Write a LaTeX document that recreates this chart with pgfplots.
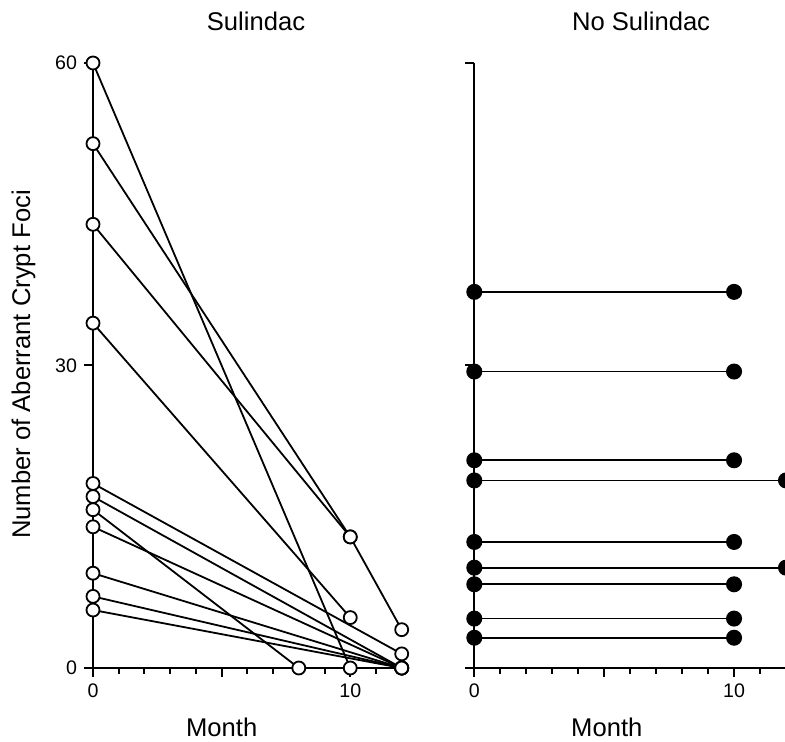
\documentclass[border=0pt]{standalone}
\usepackage{fontspec}
\setmainfont{Liberation Sans}
\usepackage{pgfplots}
\pgfplotsset{compat=1.18}
\begin{document}
\begin{tikzpicture}
\pgfplotsset{
 panel/.style={
  scale only axis, height=302.5pt,
  xmin=0, xmax=12, ymin=0, ymax=60,
  axis lines*=left, axis line style={line width=1pt},
  clip=false,
  xtick={0,5,10}, xticklabels={0,,10},
  minor xtick={1,2,3,4,6,7,8,9,11,12},
  ytick={0,30,60},
  tick align=outside,
  major tick length=4.5pt, minor tick length=3pt,
  every tick/.style={black, line width=1pt},
  tick label style={font=\fontsize{9.8}{11}\selectfont},
  /pgf/number format/assume math mode=true,
  label style={font=\fontsize{12.8}{15}\selectfont},
  every axis title shift=0pt,
  title style={font=\fontsize{12.8}{15}\selectfont, anchor=base},
 },
 sul/.style={black, line width=0.9pt, mark=*, mark size=3.25pt,
   mark options={fill=white, draw=black, line width=0.9pt, solid}},
 nos/.style={black, line width=0.9pt, mark=*, mark size=3.7pt,
   mark options={fill=black, draw=black, line width=0.6pt, solid}},
}
\begin{axis}[panel, at={(46.5pt,37pt)}, anchor=south west, width=154.35pt,
  title={Sulindac}, title style={at={(axis description cs:0.528,1.0545)}},
  xlabel={Month}, xlabel style={at={(axis description cs:0.417,-0.1136)}, anchor=base},
  ylabel={Number of Aberrant Crypt Foci},
  ylabel style={at={(axis description cs:-0.204,0.5017)}, anchor=base},
  yticklabels={0,30,60}]
\addplot[sul] coordinates {(0,60) (10,0)};
\addplot[sul] coordinates {(0,52) (10,13) (12,3.8)};
\addplot[sul] coordinates {(0,44) (10,13)};
\addplot[sul] coordinates {(0,34.2) (10,5)};
\addplot[sul] coordinates {(0,18.3) (12,1.4)};
\addplot[sul] coordinates {(0,17) (12,0)};
\addplot[sul] coordinates {(0,15.7) (8,0)};
\addplot[sul] coordinates {(0,14) (12,0)};
\addplot[sul] coordinates {(0,9.4) (12,0)};
\addplot[sul] coordinates {(0,7.1) (12,0)};
\addplot[sul] coordinates {(0,5.75) (12,0)};
\end{axis}
\begin{axis}[panel, at={(237.15pt,37pt)}, anchor=south west, width=155.85pt,
  title={No Sulindac}, title style={at={(axis description cs:0.535,1.0545)}},
  xlabel={Month}, xlabel style={at={(axis description cs:0.425,-0.1136)}, anchor=base},
  yticklabels={,,}]
\addplot[nos] coordinates {(0,37.3) (10,37.3)};
\addplot[nos] coordinates {(0,29.4) (10,29.4)};
\addplot[nos] coordinates {(0,20.6) (10,20.6)};
\addplot[nos] coordinates {(0,18.6) (12,18.6)};
\addplot[nos] coordinates {(0,12.5) (10,12.5)};
\addplot[nos] coordinates {(0,9.95) (12,9.95)};
\addplot[nos] coordinates {(0,8.3) (10,8.3)};
\addplot[nos] coordinates {(0,4.9) (10,4.9)};
\addplot[nos] coordinates {(0,3.0) (10,3.0)};
\end{axis}
\pgfresetboundingbox
\useasboundingbox (0,0) rectangle (392.5pt,371pt);
\end{tikzpicture}
\end{document}
